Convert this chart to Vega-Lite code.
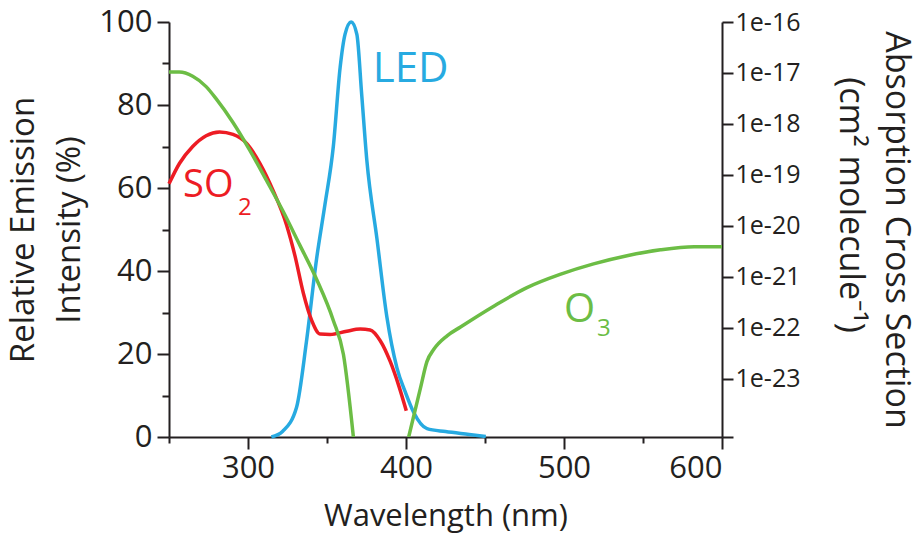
{
  "$schema": "https://vega.github.io/schema/vega-lite/v6.json",
  "width": 553,
  "height": 415,
  "autosize": {"type": "none"},
  "padding": {"left": 169, "top": 22, "right": 198, "bottom": 97},
  "config": {
    "view": {"stroke": null},
    "font": "Open Sans",
    "axis": {
      "grid": false,
      "domainColor": "#231F20",
      "domainWidth": 2,
      "tickColor": "#231F20",
      "tickWidth": 2,
      "labelColor": "#231F20",
      "labelFont": "Open Sans",
      "titleColor": "#231F20",
      "titleFont": "Open Sans",
      "titleFontWeight": "normal"
    }
  },
  "datasets": {
    "emission": [
      {"series": "LED", "wavelength": 314.8, "intensity": 0},
      {"series": "LED", "wavelength": 322, "intensity": 1.4},
      {"series": "LED", "wavelength": 330.7, "intensity": 7.1},
      {"series": "LED", "wavelength": 337, "intensity": 23},
      {"series": "LED", "wavelength": 343.4, "intensity": 42.9},
      {"series": "LED", "wavelength": 348.7, "intensity": 56},
      {"series": "LED", "wavelength": 354, "intensity": 70},
      {"series": "LED", "wavelength": 358.3, "intensity": 89},
      {"series": "LED", "wavelength": 361.4, "intensity": 97},
      {"series": "LED", "wavelength": 365.3, "intensity": 100},
      {"series": "LED", "wavelength": 368.9, "intensity": 97},
      {"series": "LED", "wavelength": 372, "intensity": 82.3},
      {"series": "LED", "wavelength": 375.2, "intensity": 66.7},
      {"series": "LED", "wavelength": 381.6, "intensity": 47.8},
      {"series": "LED", "wavelength": 387.9, "intensity": 28.9},
      {"series": "LED", "wavelength": 394.3, "intensity": 16.6},
      {"series": "LED", "wavelength": 399.6, "intensity": 10.8},
      {"series": "LED", "wavelength": 404.9, "intensity": 5.9},
      {"series": "LED", "wavelength": 413.3, "intensity": 2},
      {"series": "LED", "wavelength": 425, "intensity": 1.3},
      {"series": "LED", "wavelength": 440, "intensity": 0.6},
      {"series": "LED", "wavelength": 450.5, "intensity": 0.1},
      {"series": "SO2", "wavelength": 250, "intensity": 61},
      {"series": "SO2", "wavelength": 256.6, "intensity": 65.9},
      {"series": "SO2", "wavelength": 265, "intensity": 70},
      {"series": "SO2", "wavelength": 273.5, "intensity": 72.6},
      {"series": "SO2", "wavelength": 282, "intensity": 73.5},
      {"series": "SO2", "wavelength": 290.5, "intensity": 72.9},
      {"series": "SO2", "wavelength": 299, "intensity": 70.8},
      {"series": "SO2", "wavelength": 307.6, "intensity": 65.9},
      {"series": "SO2", "wavelength": 316, "intensity": 59.3},
      {"series": "SO2", "wavelength": 324.4, "intensity": 51.1},
      {"series": "SO2", "wavelength": 329.7, "intensity": 43.7},
      {"series": "SO2", "wavelength": 335, "intensity": 34.7},
      {"series": "SO2", "wavelength": 340.3, "intensity": 28.1},
      {"series": "SO2", "wavelength": 345.6, "intensity": 24.8},
      {"series": "SO2", "wavelength": 352, "intensity": 24.7},
      {"series": "SO2", "wavelength": 362.5, "intensity": 25.5},
      {"series": "SO2", "wavelength": 371, "intensity": 26},
      {"series": "SO2", "wavelength": 377.3, "intensity": 25.8},
      {"series": "SO2", "wavelength": 383.7, "intensity": 23.2},
      {"series": "SO2", "wavelength": 390, "intensity": 18.2},
      {"series": "SO2", "wavelength": 395.3, "intensity": 12.5},
      {"series": "SO2", "wavelength": 400.2, "intensity": 6.3}
    ],
    "ozone": [
      {"band": "Hartley", "wavelength": 250, "cross_section": 1.04e-17},
      {"band": "Hartley", "wavelength": 256.6, "cross_section": 1.04e-17},
      {"band": "Hartley", "wavelength": 265, "cross_section": 8.6e-18},
      {"band": "Hartley", "wavelength": 273.5, "cross_section": 5.4e-18},
      {"band": "Hartley", "wavelength": 279.9, "cross_section": 3.1e-18},
      {"band": "Hartley", "wavelength": 290.5, "cross_section": 1.07e-18},
      {"band": "Hartley", "wavelength": 301, "cross_section": 3.1e-19},
      {"band": "Hartley", "wavelength": 311.7, "cross_section": 7.8e-20},
      {"band": "Hartley", "wavelength": 322.2, "cross_section": 1.94e-20},
      {"band": "Hartley", "wavelength": 332.8, "cross_section": 4.2e-21},
      {"band": "Hartley", "wavelength": 343.4, "cross_section": 9.0e-22},
      {"band": "Hartley", "wavelength": 354, "cross_section": 1.4e-22},
      {"band": "Hartley", "wavelength": 360.4, "cross_section": 3.0e-23},
      {"band": "Hartley", "wavelength": 366.7, "cross_section": 7.24e-25},
      {"band": "Chappuis", "wavelength": 401.7, "cross_section": 7.24e-25},
      {"band": "Chappuis", "wavelength": 409.1, "cross_section": 6.5e-24},
      {"band": "Chappuis", "wavelength": 413.3, "cross_section": 2.2e-23},
      {"band": "Chappuis", "wavelength": 417.6, "cross_section": 3.8e-23},
      {"band": "Chappuis", "wavelength": 426, "cross_section": 7.0e-23},
      {"band": "Chappuis", "wavelength": 434.5, "cross_section": 1.04e-22},
      {"band": "Chappuis", "wavelength": 455, "cross_section": 2.6e-22},
      {"band": "Chappuis", "wavelength": 476.2, "cross_section": 6.1e-22},
      {"band": "Chappuis", "wavelength": 497.5, "cross_section": 1.12e-21},
      {"band": "Chappuis", "wavelength": 518.7, "cross_section": 1.8e-21},
      {"band": "Chappuis", "wavelength": 539.9, "cross_section": 2.6e-21},
      {"band": "Chappuis", "wavelength": 561.1, "cross_section": 3.4e-21},
      {"band": "Chappuis", "wavelength": 582.4, "cross_section": 3.9e-21},
      {"band": "Chappuis", "wavelength": 600, "cross_section": 3.9e-21}
    ]
  },
  "layer": [
    {
      "layer": [
        {
          "data": {"name": "emission"},
          "mark": {"type": "line", "strokeWidth": 3.5, "interpolate": "monotone"},
          "encoding": {
            "x": {
              "field": "wavelength",
              "type": "quantitative",
              "scale": {"domain": [250, 600], "nice": false, "zero": false},
              "axis": {
                "title": "Wavelength (nm)",
                "values": [250, 300, 350, 400, 450, 500, 550, 600],
                "labelExpr": "datum.value % 100 === 0 ? datum.label : ''",
                "tickSize": {"condition": {"test": "datum.value % 100 === 0", "value": 12}, "value": 6},
                "labelPadding": 4,
                "labelFontSize": 31,
                "titleFontSize": 31,
                "titlePadding": 18
              }
            },
            "y": {
              "field": "intensity",
              "type": "quantitative",
              "scale": {"domain": [0, 100], "nice": false},
              "axis": {
                "title": ["Relative Emission", "Intensity (%)"],
                "values": [0, 10, 20, 30, 40, 50, 60, 70, 80, 90, 100],
                "labelExpr": "datum.value % 20 === 0 ? datum.label : ''",
                "tickSize": {"condition": {"test": "datum.value % 20 === 0", "value": 12}, "value": 7},
                "labelPadding": 5,
                "labelFontSize": 31,
                "titleFontSize": 33,
                "titleLineHeight": 46,
                "titlePadding": 12
              }
            },
            "color": {
              "field": "series",
              "type": "nominal",
              "scale": {"domain": ["SO2", "LED"], "range": ["#ED1C24", "#27AAE1"]},
              "legend": null
            }
          }
        },
        {
          "data": {"values": [{"label": "LED", "wavelength": 379, "intensity": 85.5}]},
          "mark": {"type": "text", "align": "left", "baseline": "alphabetic", "fontSize": 42, "color": "#27AAE1", "font": "Open Sans"},
          "encoding": {
            "x": {"field": "wavelength", "type": "quantitative"},
            "y": {"field": "intensity", "type": "quantitative"},
            "text": {"field": "label"}
          }
        },
        {
          "data": {"values": [{"label": "SO", "wavelength": 258.9, "intensity": 57.8}]},
          "mark": {"type": "text", "align": "left", "baseline": "alphabetic", "fontSize": 38, "color": "#ED1C24", "font": "Open Sans"},
          "encoding": {
            "x": {"field": "wavelength", "type": "quantitative"},
            "y": {"field": "intensity", "type": "quantitative"},
            "text": {"field": "label"}
          }
        },
        {
          "data": {"values": [{"label": "2", "wavelength": 293.7, "intensity": 53.5}]},
          "mark": {"type": "text", "align": "left", "baseline": "alphabetic", "fontSize": 24, "color": "#ED1C24", "font": "Open Sans"},
          "encoding": {
            "x": {"field": "wavelength", "type": "quantitative"},
            "y": {"field": "intensity", "type": "quantitative"},
            "text": {"field": "label"}
          }
        },
        {
          "data": {"values": [{"label": "O", "wavelength": 500, "intensity": 27.7}]},
          "mark": {"type": "text", "align": "left", "baseline": "alphabetic", "fontSize": 40, "color": "#6CBD45", "font": "Open Sans"},
          "encoding": {
            "x": {"field": "wavelength", "type": "quantitative"},
            "y": {"field": "intensity", "type": "quantitative"},
            "text": {"field": "label"}
          }
        },
        {
          "data": {"values": [{"label": "3", "wavelength": 520.9, "intensity": 24.3}]},
          "mark": {"type": "text", "align": "left", "baseline": "alphabetic", "fontSize": 24, "color": "#6CBD45", "font": "Open Sans"},
          "encoding": {
            "x": {"field": "wavelength", "type": "quantitative"},
            "y": {"field": "intensity", "type": "quantitative"},
            "text": {"field": "label"}
          }
        }
      ]
    },
    {
      "data": {"name": "ozone"},
      "mark": {"type": "line", "strokeWidth": 3.5, "interpolate": "monotone", "color": "#6CBD45", "clip": true},
      "encoding": {
        "x": {"field": "wavelength", "type": "quantitative"},
        "detail": {"field": "band", "type": "nominal"},
        "y": {
          "field": "cross_section",
          "type": "quantitative",
          "scale": {"type": "log", "domain": [7.24e-25, 1e-16], "nice": false},
          "axis": {
            "orient": "right",
            "title": ["Absorption Cross Section", "(cm² molecule⁻¹)\u2800\u2800"],
            "values": [1e-16, 1e-17, 1e-18, 1e-19, 1e-20, 1e-21, 1e-22, 1e-23, 7.24e-25],
            "labelExpr": "datum.value > 1e-24 ? format(datum.value, '.0e') : ''",
            "tickSize": 11,
            "labelPadding": 2,
            "labelFontSize": 25,
            "titleFontSize": 34,
            "titleLineHeight": 46,
            "titlePadding": 33
          }
        }
      }
    }
  ],
  "resolve": {"scale": {"y": "independent"}}
}
